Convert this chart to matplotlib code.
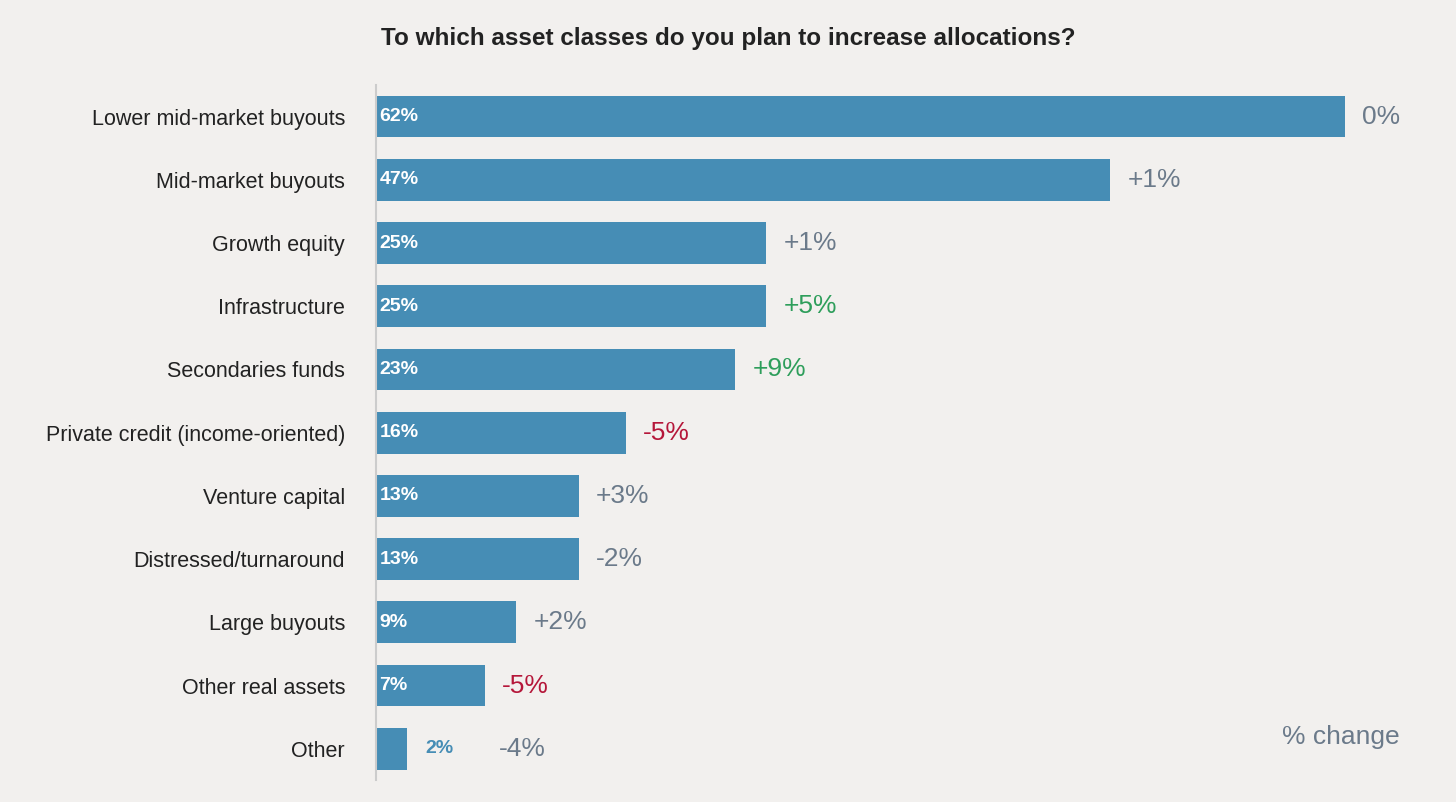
import matplotlib
matplotlib.use('Agg')
import matplotlib.pyplot as plt

categories = ["Lower mid-market buyouts", "Mid-market buyouts", "Growth equity", "Infrastructure",
              "Secondaries funds", "Private credit (income-oriented)", "Venture capital",
              "Distressed/turnaround", "Large buyouts", "Other real assets", "Other"]
values = [62, 47, 25, 25, 23, 16, 13, 13, 9, 7, 2]
changes = ["0%", "+1%", "+1%", "+5%", "+9%", "-5%", "+3%", "-2%", "+2%", "-5%", "-4%"]
change_kind = ["n", "n", "n", "g", "g", "r", "n", "n", "n", "r", "n"]

bg = "#F2F0EE"
blue = "#468DB5"
kind_color = {"n": "#6B7A8A", "g": "#2E9E5B", "r": "#B5173A"}
plt.rcParams['font.family'] = ['Liberation Sans', 'DejaVu Sans']

fig = plt.figure(figsize=(14.56, 8.02), dpi=100, facecolor=bg)
ax = fig.add_axes([0.258, 0.027, 0.717, 0.867], facecolor=bg)
y = list(range(len(categories)))
ax.barh(y, values, height=0.66, color=blue)
ax.set_ylim(10.5, -0.5)
ax.set_xlim(0, 1044 / (969 / 62))
ax.set_yticks(y)
ax.set_yticklabels(categories, fontsize=15.5, color="#222222")
ax.tick_params(axis='y', length=0, pad=22)
ax.set_xticks([])
for s in ["top", "right", "bottom"]:
    ax.spines[s].set_visible(False)
ax.spines["left"].set_color("#CCCCCC")
ax.spines["left"].set_linewidth(1.5)

for i, (v, c, k) in enumerate(zip(values, changes, change_kind)):
    if v >= 5:
        ax.text(0.25, i, f"{v}%", color="white", fontsize=14, fontweight="bold", va="center", ha="left")
        ax.text(v + 1.1, i, c, color=kind_color[k], fontsize=19, va="center", ha="left")
    else:
        ax.text(v + 1.2, i, f"{v}%", color=blue, fontsize=14, fontweight="bold", va="center", ha="left")
        ax.text(v + 5.9, i, c, color=kind_color[k], fontsize=19, va="center", ha="left")

ax.text(65.5, 10, "% change", color="#6B7A8A", fontsize=19, va="bottom", ha="right")
fig.text(0.5, 0.952, "To which asset classes do you plan to increase allocations?",
         ha="center", va="center", fontsize=17.5, fontweight="bold", color="#222222")
fig.savefig("out.png", dpi=100, facecolor=bg)
